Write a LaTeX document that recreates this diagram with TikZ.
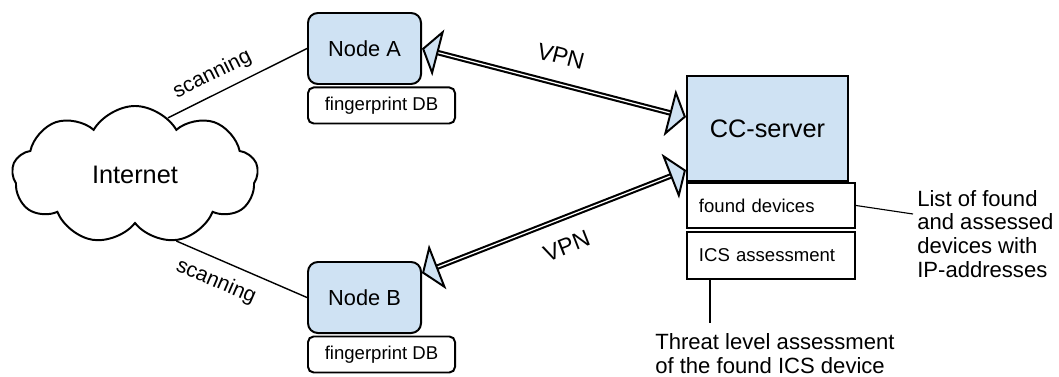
\documentclass[tikz,border=0pt]{standalone}
\usepackage{fontspec}
\setmainfont{Liberation Sans}
\usetikzlibrary{shapes.symbols,arrows.meta,calc}
\definecolor{boxblue}{HTML}{CFE2F3}
\tikzset{
  nodebox/.style={draw, line width=1.4pt, fill=boxblue, rounded corners=7pt,
    minimum width=2.825cm, minimum height=1.775cm, inner sep=0pt,
    font=\fontsize{15.5}{18}\selectfont},
  dbbox/.style={draw, line width=1.4pt, fill=white, rounded corners=4pt,
    minimum width=3.675cm, minimum height=0.9cm, inner sep=0pt, anchor=north west,
    font=\fontsize{13.2}{15}\selectfont},
  serverbox/.style={draw, line width=1.4pt, fill=boxblue,
    minimum width=4.025cm, minimum height=2.625cm, inner sep=0pt,
    font=\fontsize{18}{21}\selectfont},
  rowbox/.style={draw, line width=1.4pt, fill=white, anchor=north west,
    minimum width=4.025cm, text width=3.6cm, inner xsep=0.3cm, inner ysep=0pt,
    align=left, font=\fontsize{13.2}{15}\selectfont},
  scanline/.style={line width=1pt},
  vpnarrow/.style={double=white, double distance=0.9pt, line width=1.5pt,
    {Triangle[fill=boxblue, length=12pt, width=34pt, line width=1.4pt]}-{Triangle[fill=boxblue, length=12pt, width=34pt, line width=1.4pt]}},
  annot/.style={line width=0.8pt},
  lbl/.style={font=\fontsize{15}{18}\selectfont, inner sep=1pt},
  note/.style={font=\fontsize{15.7}{17}\selectfont, align=left, inner sep=0pt}
}
\begin{document}
\begin{tikzpicture}[x=0.025cm, y=-0.025cm]
\useasboundingbox (0,0) rectangle (1059,376);

% internet and scanning nodes
\node[cloud, draw, line width=1.4pt, cloud puffs=9, cloud puff arc=120,
  minimum width=6.15cm, minimum height=3.375cm, inner sep=0pt,
  font=\fontsize{18}{21}\selectfont] (cloud) at (135,175) {Internet};
\node[nodebox] (nodeA) at (364.5,48.5) {Node A};
\node[dbbox] (dbA) at ($(nodeA.south west)+(0,1.5)$) {fingerprint DB};
\node[nodebox] (nodeB) at (364.5,297.5) {Node B};
\node[dbbox] (dbB) at ($(nodeB.south west)+(0,1.5)$) {fingerprint DB};

% server with its tables
\node[serverbox] (cc) at (767.5,128.5) {CC-server};
\node[rowbox, minimum height=1.125cm] (found) at (cc.south west) {found devices};
\node[rowbox, minimum height=1.175cm] (ics) at ($(found.south west)+(0,2)$) {ICS assessment};

% connections
\draw[scanline] (cloud.60) -- node[lbl, pos=0.38, sloped, above=5pt] {scanning} (nodeA.west);
\draw[scanline] (cloud.-58) -- node[lbl, pos=0.37, sloped, below=7pt] {scanning} (nodeB.west);
\draw[vpnarrow] (nodeA.east) -- node[lbl, font=\fontsize{16.5}{19}\selectfont, pos=0.5, sloped, above=12pt] {VPN} (cc.172);
\draw[vpnarrow] (nodeB.23) -- node[lbl, font=\fontsize{16.5}{19}\selectfont, pos=0.51, sloped, below=12pt] {VPN} (cc.207);

% notes
\node[note, anchor=west] (listtext) at (917,234) {List of found\\and assessed\\devices with\\IP-addresses};
\coordinate (listend) at (913,214);
\draw[annot] (found.east) -- (listend);
\node[note, anchor=north west] (threat) at (655,333) {Threat level assessment\\of the found ICS device};
\coordinate (threatstart) at ($(ics.south west)+(24,0)$);
\draw[annot, shorten >=0.25cm] (threatstart) -- (threatstart |- threat.north);
\end{tikzpicture}
\end{document}
